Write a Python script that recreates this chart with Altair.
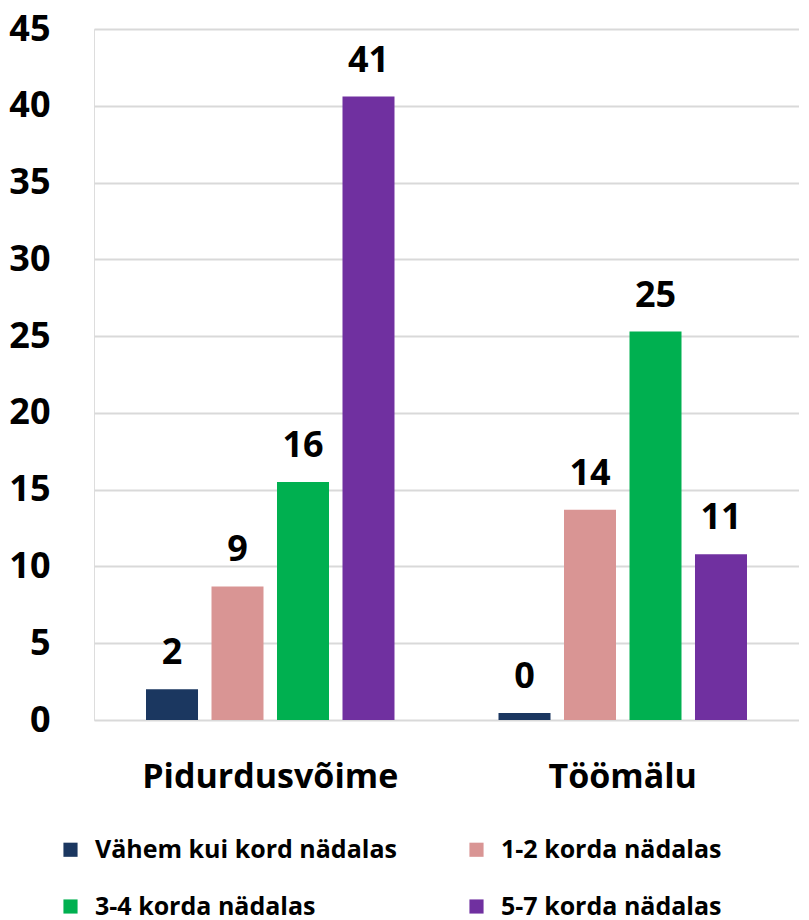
import altair as alt
import pandas as pd

categories = ["Pidurdusvõime", "Töömälu"]
series = ["Vähem kui kord nädalas", "1-2 korda nädalas", "3-4 korda nädalas", "5-7 korda nädalas"]
values_pidurdus = [2.0, 8.7, 15.5, 40.6]
values_toomalu = [0.45, 13.7, 25.3, 10.8]
labels_pidurdus = ["2", "9", "16", "41"]
labels_toomalu = ["0", "14", "25", "11"]
colors = ["#1B3760", "#D99594", "#00B050", "#7030A0"]
y_ticks = [0, 5, 10, 15, 20, 25, 30, 35, 40, 45]

rows = []
for s, v, l in zip(series, values_pidurdus, labels_pidurdus):
    rows.append({"cat": categories[0], "series": s, "value": v, "label": l})
for s, v, l in zip(series, values_toomalu, labels_toomalu):
    rows.append({"cat": categories[1], "series": s, "value": v, "label": l})
df = pd.DataFrame(rows)

FONT = "Open Sans"

x = alt.X("cat:N", sort=categories, title=None,
          scale=alt.Scale(paddingInner=0, paddingOuter=0),
          axis=alt.Axis(labelAngle=0, labelFontSize=34, labelFont=FONT, labelFontWeight="bold",
                        labelColor="#000000", labelPadding=40, ticks=False, domain=False,
                        grid=False, labelLimit=400))
xo = alt.XOffset("series:N", sort=series,
                 scale=alt.Scale(paddingInner=0.206, paddingOuter=0.794))
y = alt.Y("value:Q", title=None,
          scale=alt.Scale(domain=[0, 45], nice=False),
          axis=alt.Axis(values=y_ticks, labelFontSize=36, labelFont=FONT, labelFontWeight="bold",
                        labelColor="#000000", labelPadding=44, ticks=False, domain=False,
                        gridColor="#D9D9D9", gridWidth=2))

bars = alt.Chart(df).mark_bar().encode(
    x=x, xOffset=xo, y=y,
    color=alt.Color("series:N", sort=series,
                    scale=alt.Scale(domain=series, range=colors),
                    legend=alt.Legend(title=None, orient="none", legendX=-36, legendY=808,
                                      direction="horizontal", columns=2, symbolType="square",
                                      symbolSize=200, symbolStrokeWidth=0, labelFontSize=25,
                                      labelFont=FONT, labelFontWeight="bold", labelColor="#000000",
                                      columnPadding=67, rowPadding=31, labelLimit=400,
                                      symbolOffset=0, labelOffset=12)),
)

text = alt.Chart(df).mark_text(baseline="bottom", dy=-17, fontSize=36, font=FONT,
                               fontWeight="bold", color="#000000").encode(
    x=alt.X("cat:N", sort=categories), xOffset=alt.XOffset("series:N", sort=series),
    y="value:Q", text="label:N")

chart = alt.layer(bars, text).properties(
    width=705, height=691, padding={"top": 3, "left": 0, "right": 0, "bottom": 0}
).configure_view(stroke=None).configure(background="#FFFFFF")

chart.save("out.html", embed_options={"renderer": "svg", "actions": False})
